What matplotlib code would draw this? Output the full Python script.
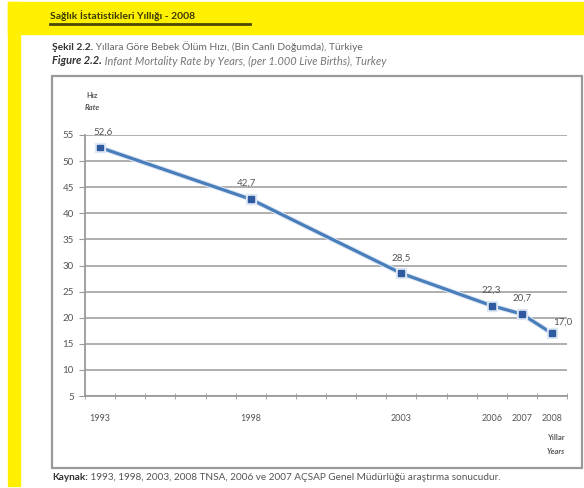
import matplotlib.pyplot as plt
from matplotlib.patches import Rectangle
import matplotlib.patheffects as pe

plt.rcParams["font.family"] = ["Lato", "DejaVu Sans"]

years = [1993, 1998, 2003, 2006, 2007, 2008]
rates = [52.6, 42.7, 28.5, 22.3, 20.7, 17.0]
labels = ["52,6", "42,7", "28,5", "22,3", "20,7", "17,0"]
y_ticks = [5, 10, 15, 20, 25, 30, 35, 40, 45, 50, 55]

W, H = 584, 488
YELLOW = "#fff000"
GRAY = "#555555"

fig = plt.figure(figsize=(W / 100, H / 100), dpi=100)

# page background drawn in pixel coordinates
bg = fig.add_axes([0, 0, 1, 1])
bg.set_xlim(0, W)
bg.set_ylim(H, 0)
bg.axis("off")
bg.add_patch(Rectangle((8, 2), W - 8, 32, color=YELLOW, zorder=0))
bg.add_patch(Rectangle((8, 2), 12, 484, color=YELLOW, zorder=0))
bg.add_patch(Rectangle((52, 76), 530, 392, fill=False, edgecolor="#9a9a9a", lw=1.6, zorder=1))

title = bg.text(50, 16, "Sağlık İstatistikleri Yıllığı - 2008", fontsize=7.5,
                fontweight="bold", color="#3a3a00", va="center")
bg.plot([50, 250], [24, 24], color="#4a4700", lw=2, zorder=2)

t1 = bg.text(52, 47, "Şekil 2.2.", fontsize=7.4, fontweight="bold", color="#333333", va="center")
bg.annotate(" Yıllara Göre Bebek Ölüm Hızı, (Bin Canlı Doğumda), Türkiye", xy=(1, 0.5),
            xycoords=t1, va="center", fontsize=7.4, color="#666666")
t2 = bg.text(52, 61, "Figure 2.2.", fontsize=7.9, fontweight="bold", style="italic",
             color="#333333", va="center")
bg.annotate(" Infant Mortality Rate by Years, (per 1.000 Live Births), Turkey", xy=(1, 0.5),
            xycoords=t2, va="center", fontsize=7.9, style="italic", color="#777777")

t3 = bg.text(52, 478, "Kaynak:", fontsize=7.2, fontweight="bold", color="#333333", va="center")
bg.annotate(" 1993, 1998, 2003, 2008 TNSA, 2006 ve 2007 AÇSAP Genel Müdürlüğü araştırma sonucudur.",
            xy=(1, 0.5), xycoords=t3, va="center", fontsize=7.2, color="#555555")

bg.text(92, 95, "Hız", fontsize=5.5, fontweight="bold", color="#555555", ha="center", va="center")
bg.text(92, 108, "Rate", fontsize=5.5, fontweight="bold", style="italic", color="#555555",
        ha="center", va="center")
bg.text(556, 437, "Yıllar", fontsize=5.5, fontweight="bold", color="#555555", ha="center", va="center")
bg.text(556, 451, "Years", fontsize=5.5, fontweight="bold", style="italic", color="#555555",
        ha="center", va="center")

# chart area
ax = fig.add_axes([85 / W, (H - 396) / H, (567 - 85) / W, (396 - 135) / H])
ax.set_facecolor("none")
ax.set_xlim(1992.5, 2008.5)
ax.set_ylim(5, 55)
ax.set_yticks(y_ticks)
ax.set_xticks(years)
ax.set_xticks([1992.5 + i for i in range(17)], minor=True)
ax.grid(axis="y", color="#a8a8a8", lw=1.3)
ax.set_axisbelow(True)
for s in ["top", "right"]:
    ax.spines[s].set_visible(False)
for s in ["left", "bottom"]:
    ax.spines[s].set_color("#9a9a9a")
    ax.spines[s].set_linewidth(1.3)
ax.tick_params(axis="y", length=4, color="#9a9a9a", labelsize=7, labelcolor=GRAY, pad=4)
ax.tick_params(axis="x", which="major", length=0, labelsize=6.5, labelcolor=GRAY, pad=13)
ax.tick_params(axis="x", which="minor", length=4, direction="inout", color="#9a9a9a")

ax.plot(years, rates, color="#4a7ebb", lw=2.3, marker="s", markersize=4.2,
        markerfacecolor="#2f5aa0", markeredgecolor="#2f5aa0",
        path_effects=[pe.Stroke(linewidth=3.8, foreground="#dde7f4"), pe.Normal()], clip_on=False)

offsets = [(2, 8), (-3, 8), (0, 8), (0, 8), (0, 8), (8, 5)]
for x, y, lab, off in zip(years, rates, labels, offsets):
    ax.annotate(lab, (x, y), xytext=off, textcoords="offset points", ha="center",
                va="bottom", fontsize=7, color=GRAY)

fig.savefig("out.png", dpi=100)
